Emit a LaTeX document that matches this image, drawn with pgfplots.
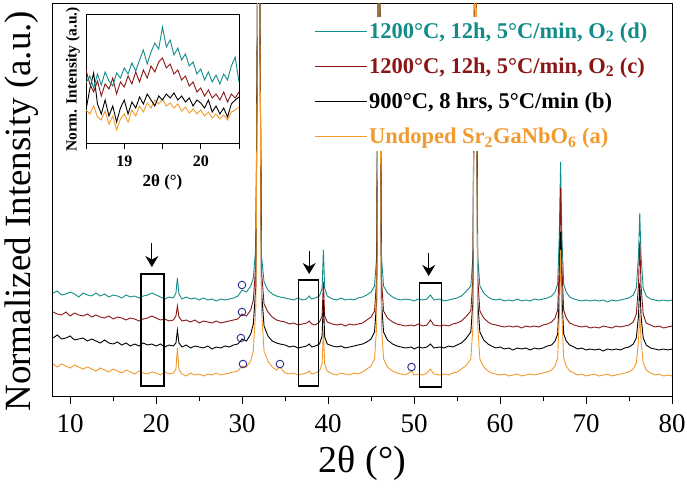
\documentclass[border=0pt]{standalone}
\usepackage{pgfplots}
\pgfplotsset{compat=1.18}
\usepackage{pgfplotstable}
\usepackage{fontspec}
\setmainfont{Liberation Serif}
\usetikzlibrary{arrows.meta}
\definecolor{cT}{HTML}{118C8A}
\definecolor{cR}{HTML}{8B1616}
\definecolor{cO}{HTML}{F39A2E}
\definecolor{cN}{HTML}{2B2B8C}

\pgfplotstableread{
x a b c d
8.0 32 58 84 103
8.5 29 61 82 105
9.0 32 57 81 101
9.5 30 58 84 102
10.0 28 60 80 104
10.5 31 56 83 102
11.0 29 57 81 99
11.5 27 58 80 103
12.0 29 55 82 101
12.5 27 57 79 100
13.0 25 55 81 103
13.5 28 53 79 100
14.0 26 56 78 102
14.5 24 53 80 99
15.0 27 52 77 101
15.5 25 54 79 100
16.0 23 51 78 98
16.5 26 53 76 101
17.0 24 50 78 99
17.5 22 52 77 100
18.0 25 50 75 98
18.5 23 53 77 100
19.0 22 51 78 101
19.5 24 52 80 103
20.0 23 50 78 101
20.5 21 52 76 99
21.0 24 49 77 97
21.5 22 51 75 99
22.0 23 50 76 98
22.3 27 53 80 103
22.47 48 66 90 118
22.65 26 53 79 102
23.0 22 49 75 97
23.5 20 51 76 99
24.0 23 48 74 97
24.5 21 50 76 98
25.0 22 49 73 96
25.5 20 48 75 98
26.0 22 50 74 96
26.5 21 47 73 97
27.0 23 49 75 95
27.5 21 48 73 97
28.0 22 50 74 96
28.5 23 49 75 97
29.0 24 51 76 98
29.5 25 52 77 100
30.0 30 57 82 106
30.5 29 55 80 104
31.0 35 62 86 110
31.3 45 72 96 118
31.6 90 110 132 150
31.8 420 420 420 420
31.92 800 800 800 800
32.04 420 420 420 420
32.25 85 105 125 140
32.55 45 70 92 114
33.0 35 60 84 106
33.5 29 55 79 102
34.0 26 53 76 100
34.4 29 52 75 99
35.0 23 51 74 98
35.5 22 49 72 97
36.0 23 50 73 96
36.5 21 48 71 98
37.0 22 49 72 96
37.5 23 50 73 97
37.8 25 52 75 100
38.1 22 49 72 97
38.5 23 50 71 98
39.0 25 52 74 100
39.3 32 60 80 108
39.45 66 96 114 146
39.6 32 59 80 108
39.9 25 52 74 100
40.5 22 50 72 97
41.0 21 49 71 96
41.5 23 50 72 98
42.0 22 48 70 96
42.5 21 49 72 97
43.0 23 50 71 96
43.5 22 51 72 98
44.0 24 52 73 99
44.5 27 54 76 101
45.0 30 57 79 104
45.4 37 64 85 110
45.65 70 95 118 140
45.82 420 420 420 420
45.92 800 800 800 800
46.02 420 420 420 420
46.2 70 95 118 140
46.45 37 64 85 110
46.9 29 56 78 103
47.5 25 52 74 99
48.0 23 50 72 97
48.5 22 49 71 96
49.0 21 48 70 97
49.7 25 49 71 96
50.0 21 47 70 95
50.5 22 49 72 97
51.0 21 48 70 96
51.5 23 49 71 97
51.9 27 52 76 101
52.3 22 48 71 96
53.0 21 49 70 97
53.5 22 48 71 95
54.0 21 50 70 96
54.5 23 49 72 97
55.0 24 51 73 98
55.5 27 53 75 100
56.0 30 57 79 104
56.6 37 64 85 110
56.85 70 95 118 140
57.02 420 420 420 420
57.12 800 800 800 800
57.22 420 420 420 420
57.4 70 95 118 140
57.65 37 64 85 110
58.1 29 56 78 103
58.6 25 52 74 99
59.0 23 50 72 97
59.5 22 48 71 96
60.0 21 49 70 97
60.5 22 47 69 95
61.0 20 48 70 96
61.5 21 46 69 95
62.0 22 48 70 97
62.5 20 47 68 95
63.0 21 48 70 96
63.5 22 46 69 95
64.0 21 48 70 97
64.5 22 47 69 96
65.0 23 48 71 97
65.5 24 50 72 98
66.0 26 51 74 100
66.4 30 55 78 104
66.7 38 62 86 112
66.89 80 100 130 160
67.04 146 164 208 234
67.19 80 100 130 160
67.4 38 62 86 112
67.7 30 55 78 104
68.1 25 51 73 99
68.6 23 49 71 97
69.0 21 47 70 96
69.5 22 48 69 95
70.0 20 46 70 96
70.5 21 47 68 95
71.0 22 46 69 96
71.5 20 47 68 95
72.0 21 45 70 96
72.5 22 47 69 94
73.0 20 46 68 96
73.5 21 47 70 95
74.0 22 46 69 96
74.5 23 48 70 97
75.0 24 49 71 98
75.5 27 52 74 101
75.85 33 58 82 108
76.1 55 80 110 140
76.25 83 113 154 183
76.4 55 80 110 140
76.65 33 58 82 108
77.0 26 51 73 100
77.5 23 48 71 97
78.0 21 47 69 96
78.5 22 46 70 95
79.0 20 47 68 96
79.5 21 46 69 95
80.0 20 47 70 96
}\maindata

\pgfplotstableread{
x a b c d
18.50 34 34 74 61
18.55 30 55 60 68
18.60 38 71 52 56
18.65 27 40 63 70
18.70 24 30 48 59
18.75 33 44 60 72
18.80 20 28 55 63
18.85 28 38 66 58
18.90 14 22 50 71
18.95 25 36 62 66
19.00 30 44 57 76
19.05 22 30 68 70
19.10 34 42 60 81
19.15 28 36 72 73
19.20 38 47 62 84
19.25 32 40 74 94
19.30 41 50 66 80
19.35 36 44 78 92
19.40 44 38 72 101
19.45 40 48 82 95
19.50 45 44 86 117
19.55 38 50 76 97
19.60 41 46 80 104
19.65 36 51 70 89
19.70 40 44 74 96
19.75 33 48 64 84
19.80 37 42 68 90
19.85 31 46 58 78
19.90 35 38 62 82
19.95 30 44 52 70
20.00 34 41 56 75
20.05 28 36 48 64
20.10 32 44 54 72
20.15 26 32 46 62
20.20 30 38 50 69
20.25 25 30 44 60
20.30 29 36 52 70
20.35 24 27 42 64
20.40 32 40 50 78
20.45 34 44 46 87
20.50 37 47 52 62
}\insetdata

\begin{document}
\begin{tikzpicture}
\begin{axis}[
  at={(0,0)}, anchor=south west,
  width=619bp, height=393bp, scale only axis,
  xmin=8, xmax=80, ymin=0, ymax=393,
  xtick={10,20,...,80}, minor x tick num=1,
  ytick=\empty,
  xtick pos=left, tick align=outside,
  major tick length=8bp, minor tick length=5bp,
  axis line style={line width=1bp},
  every tick/.style={black, line width=1bp},
  /pgf/number format/assume math mode=true,
  ticklabel style={font=\fontsize{27bp}{30bp}\selectfont},
  xticklabel style={yshift=-7bp},
  xlabel={2θ (°)},
  ylabel={Normalized Intensity (a.u.)},
  every axis x label/.style={at={(axis description cs:0.5,-0.17)}, anchor=center, font=\fontsize{38bp}{42bp}\selectfont},
  every axis y label/.style={at={(axis description cs:-0.05,0.47)}, rotate=90, anchor=center, font=\fontsize{37bp}{40bp}\selectfont},
  legend cell align=left,
  legend style={at={(rel axis cs:0.415,0.965)}, anchor=north west, draw=none, fill=white,
    inner sep=4bp, row sep=14bp, font=\fontsize{22.5bp}{26bp}\selectfont\bfseries,
    nodes={inner sep=2bp}},
  legend image code/.code={\draw[#1, line width=1bp] (0bp,0bp) -- (52bp,0bp);},
]
\addplot[cT, line width=0.9bp] table[x=x, y=d]{\maindata};
\addlegendentry{\textcolor{cT}{1200°C, 12h, 5°C/min, O\textsubscript{2} (d)}}
\addplot[cR, line width=0.9bp] table[x=x, y=c]{\maindata};
\addlegendentry{\textcolor{cR}{1200°C, 12h, 5°C/min, O\textsubscript{2} (c)}}
\addplot[black, line width=0.9bp] table[x=x, y=b]{\maindata};
\addlegendentry{\textcolor{black}{900°C, 8 hrs, 5°C/min (b)}}
\addplot[cO, line width=0.9bp] table[x=x, y=a]{\maindata};
\addlegendentry{\textcolor{cO}{Undoped Sr\textsubscript{2}GaNbO\textsubscript{6} (a)}}
\addplot[only marks, mark=o, mark size=3.8bp, cN, mark options={line width=0.9bp}, forget plot]
  coordinates {(29.98,111) (29.98,84) (29.86,58) (30.1,32) (34.4,32) (49.7,29)};
\draw[line width=1.2bp] (axis cs:18.24,10) rectangle (axis cs:20.91,122);
\draw[line width=1.2bp] (axis cs:36.6,10) rectangle (axis cs:38.9,116);
\draw[line width=1.2bp] (axis cs:50.6,9) rectangle (axis cs:53.2,113);
\draw[-{Stealth[length=11bp,width=13bp]}, line width=1.2bp] (axis cs:19.5,153) -- (axis cs:19.5,129);
\draw[-{Stealth[length=11bp,width=13bp]}, line width=1.2bp] (axis cs:37.8,145) -- (axis cs:37.8,122);
\draw[-{Stealth[length=11bp,width=13bp]}, line width=1.2bp] (axis cs:51.7,143) -- (axis cs:51.7,120);
\end{axis}
\begin{axis}[
  at={(33bp,252bp)}, anchor=south west,
  width=153bp, height=129bp, scale only axis,
  axis background/.style={fill=white},
  xmin=18.5, xmax=20.5, ymin=0, ymax=129,
  xtick={19,20}, minor xtick={18.5,19.5,20.5},
  ytick=\empty,
  xtick pos=left, tick align=outside,
  major tick length=5bp, minor tick length=5bp,
  axis line style={line width=1bp},
  every tick/.style={black, line width=0.9bp},
  /pgf/number format/assume math mode=true,
  ticklabel style={font=\fontsize{16bp}{18bp}\selectfont\bfseries},
  xticklabel style={yshift=-3bp},
  xlabel={2θ (°)},
  ylabel={Norm. Intensity (a.u.)},
  every axis x label/.style={at={(axis description cs:0.5,-0.30)}, anchor=center, font=\fontsize{17bp}{20bp}\selectfont\bfseries},
  every axis y label/.style={at={(axis description cs:-0.085,0.5)}, rotate=90, anchor=center, font=\fontsize{15.5bp}{18bp}\selectfont\bfseries},
]
\addplot[cO, line width=0.9bp] table[x=x, y=a]{\insetdata};
\addplot[black, line width=0.9bp] table[x=x, y=b]{\insetdata};
\addplot[cR, line width=0.9bp] table[x=x, y=c]{\insetdata};
\addplot[cT, line width=0.9bp] table[x=x, y=d]{\insetdata};
\end{axis}
\pgfresetboundingbox
\path[use as bounding box] (-53bp,-96bp) rectangle (634bp,396bp);
\end{tikzpicture}
\end{document}
